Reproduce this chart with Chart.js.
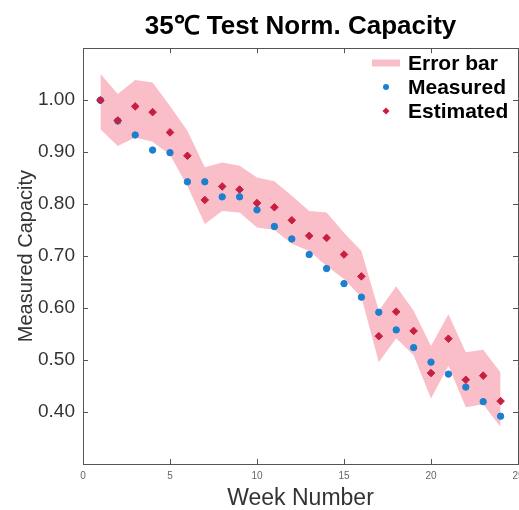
<!DOCTYPE html>
<html>
<head>
<meta charset="utf-8">
<script src="https://cdn.jsdelivr.net/npm/chart.js@4.4.0/dist/chart.umd.min.js"></script>
<style>
  html, body { margin:0; padding:0; background:#fff; overflow:hidden; }
  #wrap { position:relative; width:540px; height:510px; }
  #legend { position:absolute; left:366px; top:51px; font:bold 21px "Liberation Sans", Arial, sans-serif; color:#000; }
  #legend .row { height:24px; line-height:24px; display:flex; align-items:center; white-space:nowrap; }
  #legend .sw { width:40px; height:24px; position:relative; display:inline-block; margin-right:2px; }
  #legend .sw i { position:absolute; left:50%; top:50%; transform:translate(-50%,-50%); }
</style>
</head>
<body>
<div id="wrap">
  <canvas id="chart" width="540" height="510"></canvas>
  <div id="legend"></div>
</div>
<script>
// chart data
const weeks = [1,2,3,4,5,6,7,8,9,10,11,12,13,14,15,16,17,18,19,20,21,22,23,24];
const measured = [1.00,0.960,0.933,0.904,0.899,0.843,0.843,0.814,0.814,0.789,0.757,0.733,
                  0.703,0.676,0.647,0.621,0.592,0.558,0.524,0.496,0.473,0.448,0.420,0.392];
const estimated = [1.00,0.961,0.988,0.977,0.938,0.893,0.808,0.834,0.828,0.802,0.794,0.769,
                   0.739,0.735,0.703,0.661,0.546,0.593,0.556,0.475,0.541,0.462,0.470,0.421];
const errUpper = [1.051,1.012,1.039,1.034,0.989,0.941,0.871,0.880,0.874,0.851,0.844,0.816,
                  0.787,0.784,0.745,0.710,0.595,0.642,0.595,0.527,0.588,0.515,0.520,0.476];
const errLower = [0.944,0.912,0.928,0.920,0.895,0.835,0.762,0.787,0.784,0.755,0.750,0.724,
                  0.710,0.681,0.656,0.621,0.496,0.542,0.509,0.426,0.489,0.409,0.415,0.371];
const xTicks = [0,5,10,15,20,25];
const yTicks = [0.40,0.50,0.60,0.70,0.80,0.90,1.00];

const PINK = "rgb(250,190,201)";
const BLUE = "#1b80d0";
const RED = "#c81e40";
const FONT = "'Liberation Sans', Arial, sans-serif";

const pts = arr => weeks.map((w,i) => ({x:w, y:arr[i]}));
const fixTicks = list => scale => { scale.ticks = list.map(v => ({value:v})); };

const axisBase = {
  border: { display:true, color:'#555', width:1 },
  grid: { drawOnChartArea:false, drawTicks:true, tickLength:-5, color:'#555' }
};

const chart = new Chart(document.getElementById("chart"), {
  type: 'scatter',
  data: {
    datasets: [
      { label:'Estimated', data:pts(estimated), backgroundColor:RED, borderColor:RED,
        pointStyle:'rectRot', pointRadius:3.8, order:0 },
      { label:'Measured', data:pts(measured), backgroundColor:BLUE, borderColor:BLUE,
        pointStyle:'circle', pointRadius:3.2, order:1 },
      { label:'Error bar', type:'line', data:pts(errUpper), showLine:true, borderWidth:0,
        pointRadius:0, backgroundColor:PINK, fill:'+1', tension:0, order:2 },
      { label:'lower', type:'line', data:pts(errLower), showLine:true, borderWidth:0,
        pointRadius:0, backgroundColor:PINK, fill:false, tension:0, order:3 }
    ]
  },
  options: {
    responsive:false,
    animation:false,
    layout: { padding: { left:0, right:22, top:0, bottom:0 } },
    plugins: {
      legend: { display:false },
      tooltip: { enabled:false },
      title: {
        display:true, text:'35\u2103 Test Norm. Capacity', fullSize:false,
        color:'#000', font:{ family:FONT, size:26, weight:'bold', lineHeight:1.2 },
        padding:{ top:11, bottom:6 }
      }
    },
    scales: {
      x: {
        ...axisBase, type:'linear', position:'bottom', min:0, max:25,
        afterBuildTicks: fixTicks(xTicks),
        afterFit: s => { s.height = 46; },
        ticks: { color:'#666', font:{ family:FONT, size:10 }, padding:11, maxRotation:0 },
        title: { display:true, text:'Week Number', color:'#333',
                 font:{ family:FONT, size:23, lineHeight:1 }, padding:{ top:0, bottom:0 } }
      },
      x2: {
        ...axisBase, type:'linear', position:'top', min:0, max:25,
        afterBuildTicks: fixTicks(xTicks),
        afterFit: s => { s.height = 0; },
        ticks: { display:false }
      },
      y: {
        ...axisBase, type:'linear', position:'left', min:0.3, max:1.1,
        afterBuildTicks: fixTicks(yTicks),
        afterFit: s => { s.width = 83; },
        ticks: { color:'#333', font:{ family:FONT, size:19 }, padding:13,
                 callback: v => Number(v).toFixed(2) },
        title: { display:true, text:'Measured Capacity', color:'#333',
                 font:{ family:FONT, size:20, lineHeight:1.2 }, padding:{ top:14, bottom:0 } }
      },
      y2: {
        ...axisBase, type:'linear', position:'right', min:0.3, max:1.1,
        afterBuildTicks: fixTicks(yTicks),
        afterFit: s => { s.width = 0; },
        ticks: { display:false }
      }
    }
  }
});

// legend drawn as html over the chart area (top right, like the original)
const legendItems = [
  { label: chart.data.datasets[2].label, css: `width:28px;height:7px;background:${PINK}` },
  { label: chart.data.datasets[1].label, css: `width:6px;height:6px;border-radius:50%;background:${BLUE}` },
  { label: chart.data.datasets[0].label, css: `width:5px;height:5px;background:${RED};transform:translate(-50%,-50%) rotate(45deg)` }
];
document.getElementById("legend").innerHTML = legendItems.map(it =>
  `<div class="row"><span class="sw"><i style="${it.css}"></i></span>${it.label}</div>`
).join("");
</script>
</body>
</html>
